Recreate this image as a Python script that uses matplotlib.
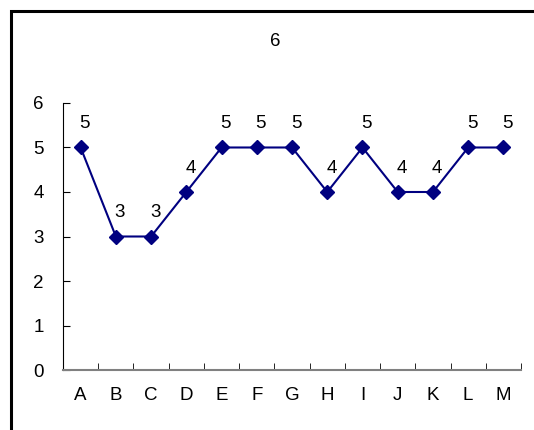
import matplotlib
matplotlib.use("Agg")
import matplotlib.pyplot as plt
from matplotlib.patches import Rectangle

plt.rcParams['font.family'] = ['Liberation Sans', 'DejaVu Sans']

labels = ['A', 'B', 'C', 'D', 'E', 'F', 'G', 'H', 'I', 'J', 'K', 'L', 'M']
values = [5, 3, 3, 4, 5, 5, 5, 4, 5, 4, 4, 5, 5]
title = '6'

fig = plt.figure(figsize=(5.34, 4.30), dpi=100)
ax = fig.add_axes([0.118, 0.1395, 0.8577, 0.621])

x = list(range(len(labels)))
ax.plot(x, values, color='#000080', lw=1.5, marker='D', markersize=7.5,
        markerfacecolor='#000080', markeredgecolor='#000080', zorder=3)

for xi, v in zip(x, values):
    ax.annotate(str(v), (xi, v), textcoords='offset points', xytext=(3, 17),
                ha='center', va='center', fontsize=13.5)

ax.set_xlim(-0.5, len(labels) - 0.5)
ax.set_ylim(0, 6)
ax.set_yticks(range(7))
ax.set_xticks(x)
ax.set_xticklabels(labels)
ax.set_xticks([i - 0.5 for i in range(len(labels) + 1)], minor=True)
ax.tick_params(axis='x', which='major', length=0, pad=12, labelsize=13.5)
ax.tick_params(axis='x', which='minor', direction='in', length=5, color='black')
ax.tick_params(axis='y', direction='in', length=5, pad=14, labelsize=13.5)

ax.spines['top'].set_visible(False)
ax.spines['right'].set_visible(False)
ax.spines['bottom'].set_color('#808080')
ax.spines['bottom'].set_linewidth(1.5)
ax.spines['left'].set_color('black')

fig.text(0.515, 1 - 42 / 430, title, ha='center', va='center', fontsize=13.5)

# outer chart frame, cut off at the right and bottom
fig.patches.append(Rectangle((11 / 534, -0.1), 1.2, 1 - 11 / 430 + 0.1,
                             transform=fig.transFigure, fill=False,
                             edgecolor='black', lw=2.2))

fig.savefig('out.png', dpi=100)
